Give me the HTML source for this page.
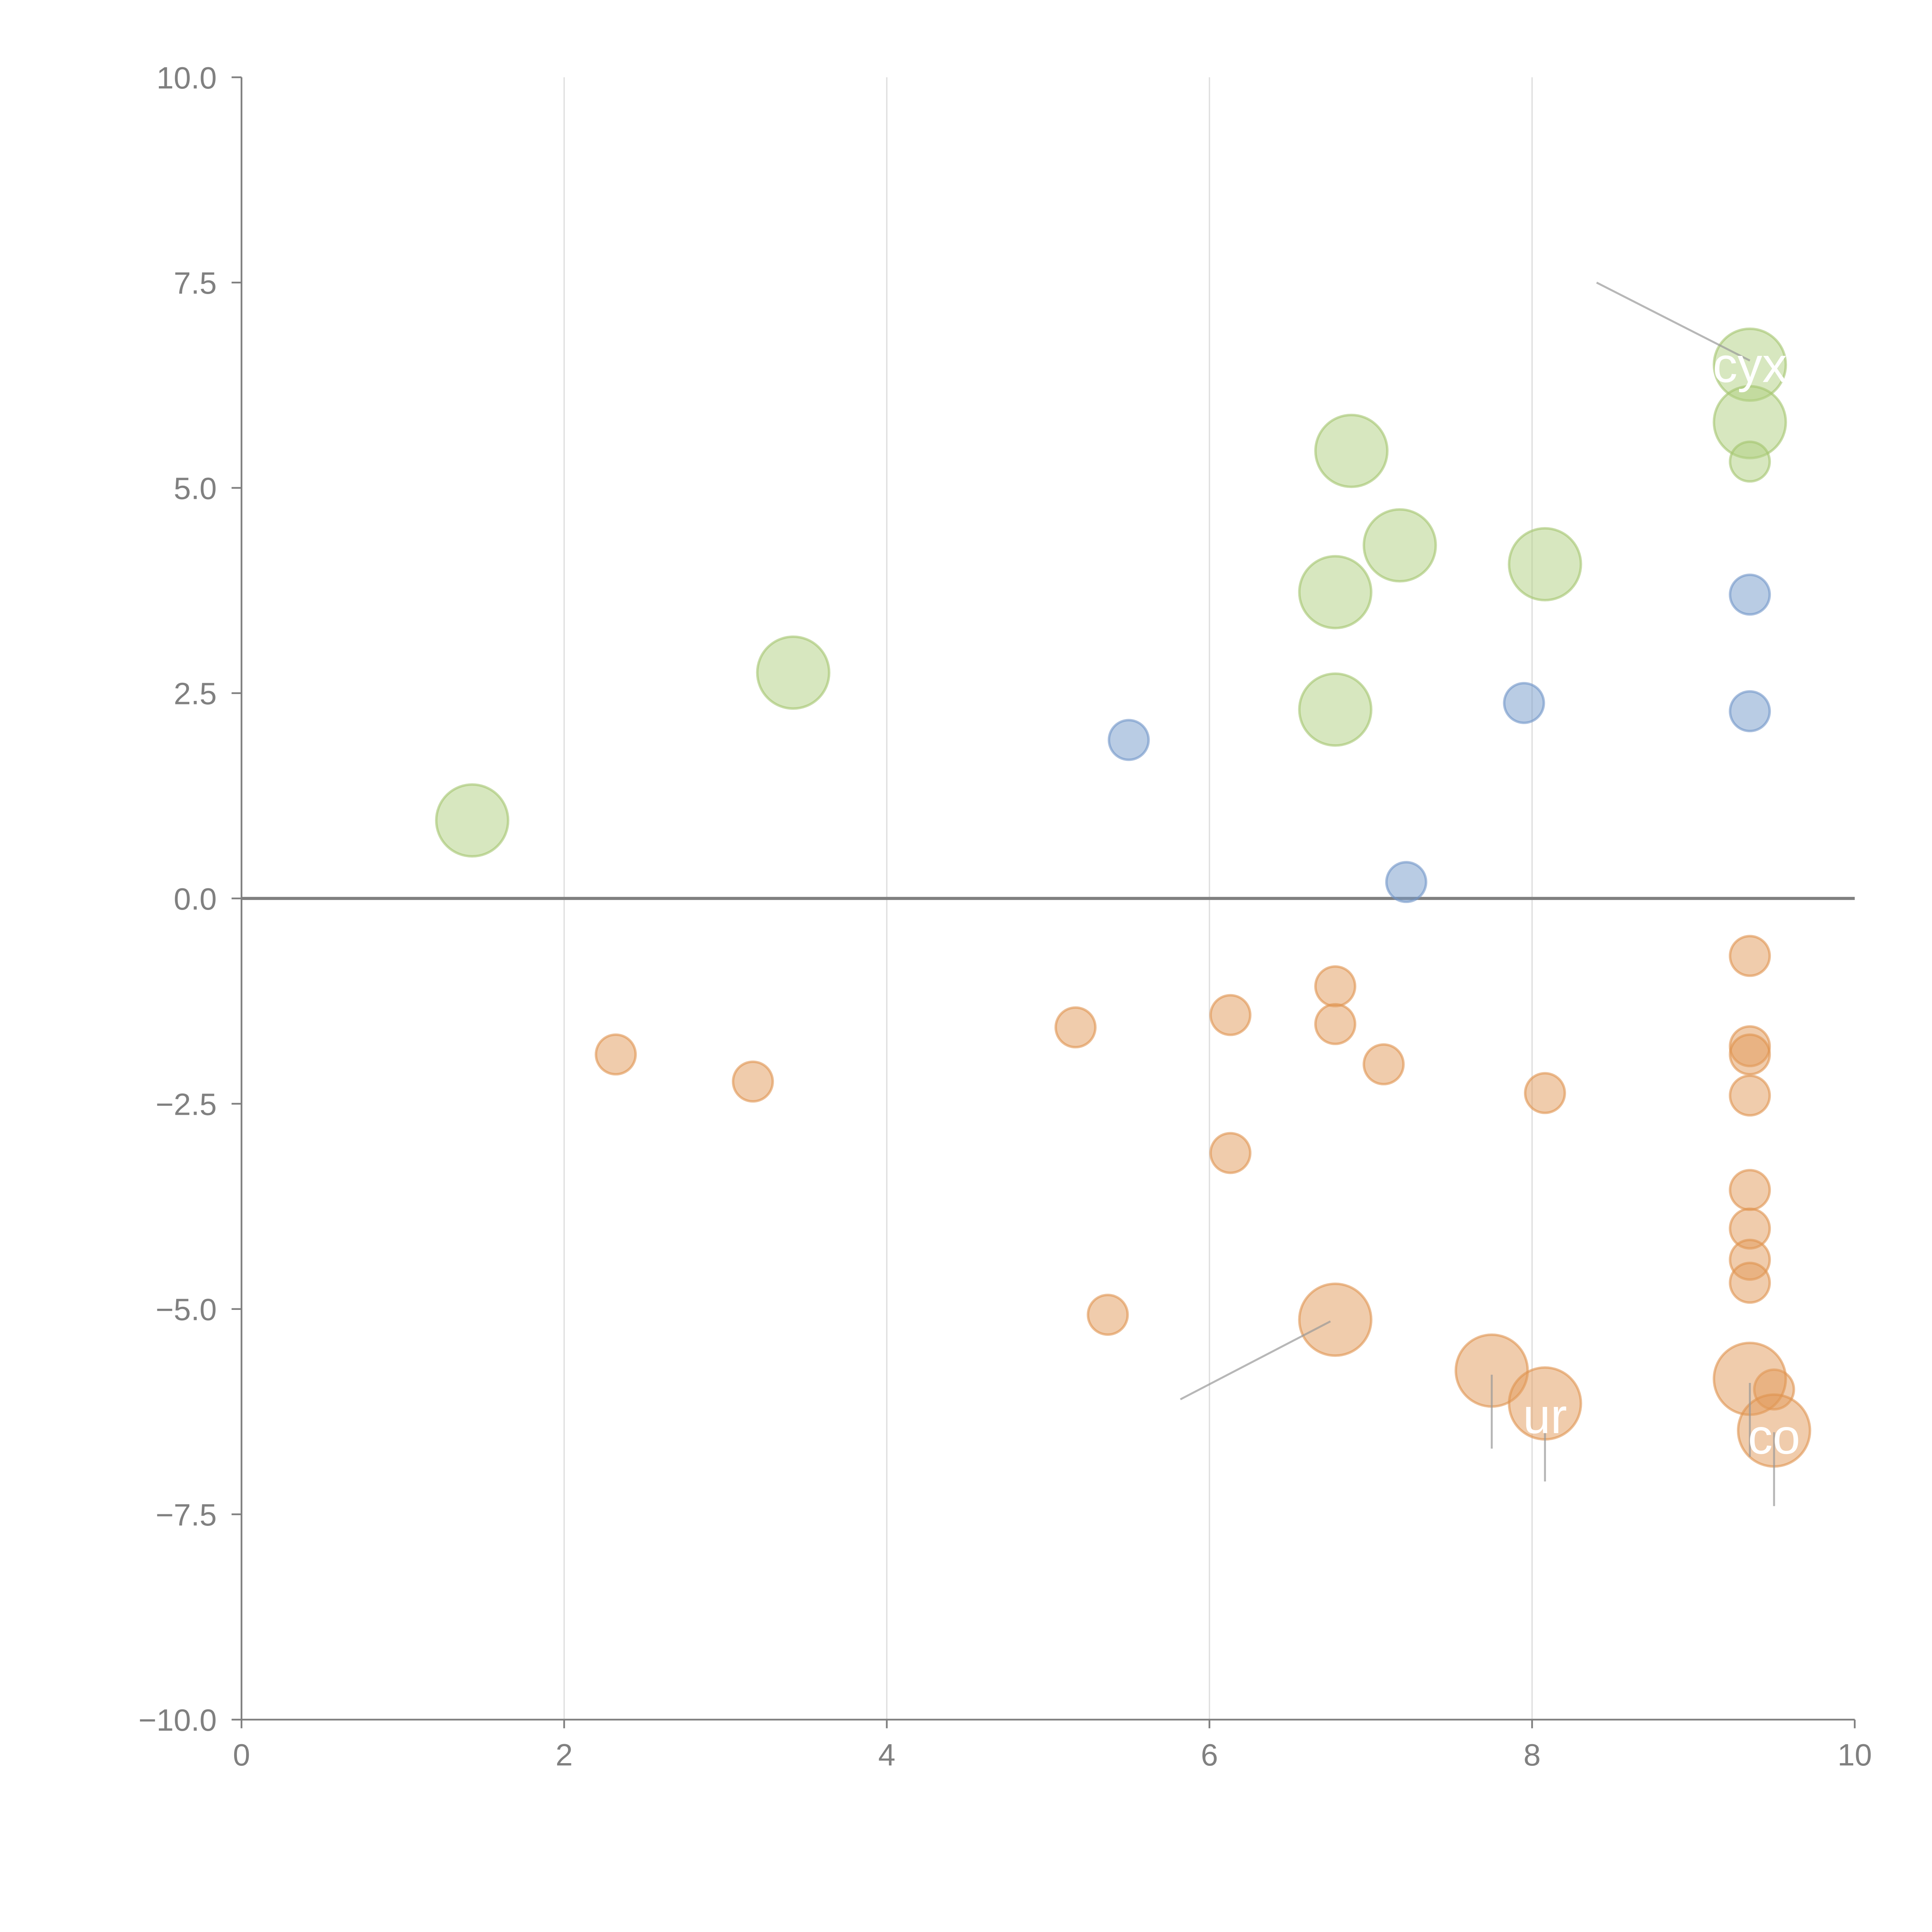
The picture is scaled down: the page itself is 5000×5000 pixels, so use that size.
<!DOCTYPE html>
<html><head><meta charset="utf-8"><style>html,body{margin:0;padding:0;background:#fff}svg{display:block}</style></head>
<body>
<svg id="chart" width="5000" height="5000" viewBox="0 0 1560 1560" xmlns="http://www.w3.org/2000/svg" font-family="Liberation Sans, sans-serif">
<g id="grid"></g>
<g id="axes"></g>
<g id="marks"></g>
<g id="annot"></g>
</svg>
<script>
const xTicks=[0,2,4,6,8,10];
const yTicks=[10,7.5,5,2.5,0,-2.5,-5,-7.5,-10];
const yTickLabels=["10.0","7.5","5.0","2.5","0.0","\u22122.5","\u22125.0","\u22127.5","\u221210.0"];
const greenX=[1.43,3.42,6.78,6.78,6.88,7.18,8.08,9.35,9.35,9.35];
const greenY=[0.95,2.75,2.3,3.73,5.45,4.3,4.07,6.5,5.8,5.32];
const greenSize=[2,2,2,2,2,2,2,2,2,1];
const blueX=[5.5,7.22,7.95,9.35,9.35];
const blueY=[1.93,0.2,2.38,3.7,2.28];
const blueSize=[1,1,1,1,1];
const orangeX=[2.32,3.17,5.17,6.13,6.78,6.78,7.08,6.13,5.37,8.08,9.35,9.35,9.35,9.35,9.35,9.35,9.35,9.35,9.5,6.78,7.75,8.08,9.35,9.5];
const orangeY=[-1.9,-2.23,-1.57,-1.42,-1.07,-1.53,-2.02,-3.1,-5.07,-2.37,-0.7,-1.8,-1.9,-2.4,-3.55,-4.02,-4.4,-4.68,-5.98,-5.13,-5.75,-6.15,-5.85,-6.48];
const orangeSize=[1,1,1,1,1,1,1,1,1,1,1,1,1,1,1,1,1,1,1,2,2,2,2,2];
const labelText=["cyx","ur","co"];
const labelX=[9.35,8.08,9.5];
const labelY=[6.5,-6.3,-6.55];

const NS="http://www.w3.org/2000/svg";
const X0=195,X1=1497.6,Y0=1388.5,Y1=62.4;
const px=v=>X0+(v-0)/(10-0)*(X1-X0);
const py=v=>Y0-(v+10)/20*(Y0-Y1);
function mk(tag,attrs,parent){const e=document.createElementNS(NS,tag);for(const k in attrs)e.setAttribute(k,attrs[k]);parent.appendChild(e);return e;}
const grid=document.getElementById('grid'),axes=document.getElementById('axes'),marks=document.getElementById('marks'),annot=document.getElementById('annot');

xTicks.forEach((t,i)=>{
  if(t>0&&t<10){const g=mk('line',{x1:px(t),x2:px(t),y1:Y1,y2:Y0,stroke:'#ddd','stroke-width':1},grid);
  
  }
  const tk=mk('line',{x1:px(t),x2:px(t),y1:Y0,y2:Y0+7,stroke:'#808080','stroke-width':1.4},axes);
  
  
  const tl=mk('text',{x:px(t),y:Y0+37,'text-anchor':'middle','font-size':25,fill:'#808080'},axes);
  tl.textContent=String(t);
  
  
});
yTicks.forEach((t,i)=>{
  const tk=mk('line',{x1:X0-8,x2:X0,y1:py(t),y2:py(t),stroke:'#808080','stroke-width':1.4},axes);
  
  
  const tl=mk('text',{x:X0-20,y:py(t)+9,'text-anchor':'end','font-size':25,fill:'#808080'},axes);
  tl.textContent=yTickLabels[i];
  
  
});
let a=mk('line',{x1:X0,x2:X0,y1:Y1,y2:Y0,stroke:'#808080','stroke-width':1.4},axes);


a=mk('line',{x1:X0,x2:X1,y1:Y0,y2:Y0,stroke:'#808080','stroke-width':1.4},axes);


a=mk('line',{x1:X0,x2:X1,y1:py(0),y2:py(0),stroke:'#808080','stroke-width':2.5},axes);



function series(xs,ys,ss,fill,stroke,name){
  xs.forEach((x,i)=>{
    const r=ss[i]===2?29:16;
    const c=mk('circle',{cx:px(x),cy:py(ys[i]),r:r,fill:fill,'fill-opacity':0.5,stroke:stroke,'stroke-opacity':0.6,'stroke-width':2},marks);
    
    
  });
}
series(greenX,greenY,greenSize,'#b0cf80','#a3c46e','green-bubble');
series(blueX,blueY,blueSize,'#7499c9','#6f95c8','blue-bubble');
series(orangeX,orangeY,orangeSize,'#e29a5a','#e0924e','orange-bubble');

const leaders=[[8.4,7.5,9.35,6.55],[5.82,-6.1,6.75,-5.15],[7.75,-5.8,7.75,-6.7],[8.08,-6.2,8.08,-7.1],[9.35,-5.9,9.35,-6.8],[9.5,-6.5,9.5,-7.4]];
leaders.forEach(l=>{
  const e=mk('line',{x1:px(l[0]),y1:py(l[1]),x2:px(l[2]),y2:py(l[3]),stroke:'#999','stroke-opacity':0.7,'stroke-width':1.6},annot);
  
  
});
labelText.forEach((t,i)=>{
  const e=mk('text',{x:px(labelX[i]),y:py(labelY[i])+14,'text-anchor':'middle','font-size':40,fill:'#fff'},annot);
  e.textContent=t;
  
  
});
</script>
</body></html>
